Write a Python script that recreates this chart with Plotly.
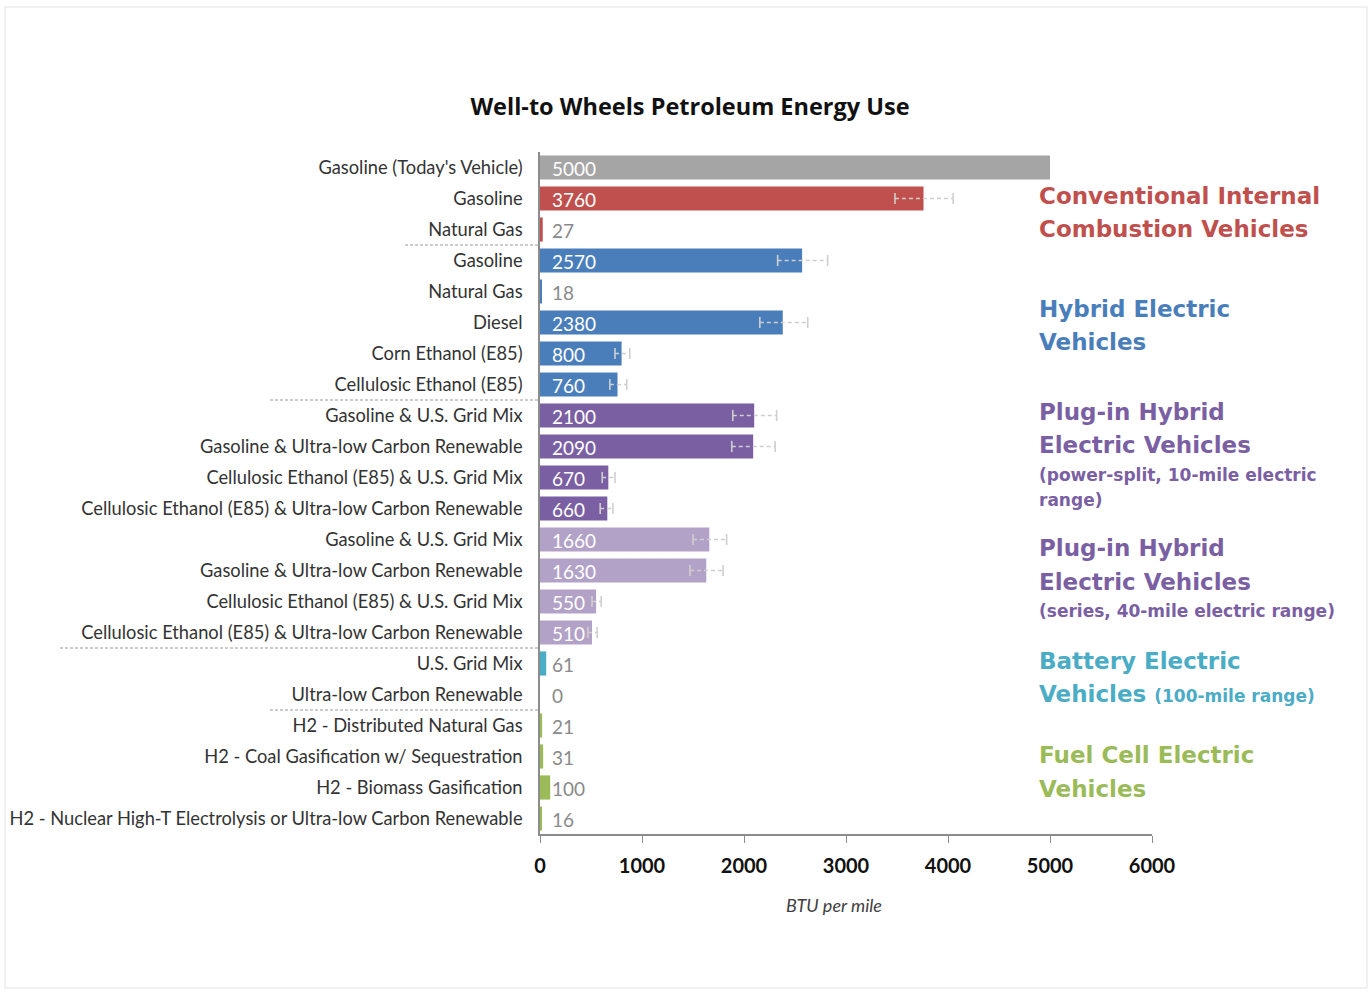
import plotly.graph_objects as go

# ---- data ----
categories = [
    "Gasoline (Today's Vehicle)",
    "Gasoline",
    "Natural Gas",
    "Gasoline",
    "Natural Gas",
    "Diesel",
    "Corn Ethanol (E85)",
    "Cellulosic Ethanol (E85)",
    "Gasoline & U.S. Grid Mix",
    "Gasoline & Ultra-low Carbon Renewable",
    "Cellulosic Ethanol (E85) & U.S. Grid Mix",
    "Cellulosic Ethanol (E85) & Ultra-low Carbon Renewable",
    "Gasoline & U.S. Grid Mix",
    "Gasoline & Ultra-low Carbon Renewable",
    "Cellulosic Ethanol (E85) & U.S. Grid Mix",
    "Cellulosic Ethanol (E85) & Ultra-low Carbon Renewable",
    "U.S. Grid Mix",
    "Ultra-low Carbon Renewable",
    "H2 - Distributed Natural Gas",
    "H2 - Coal Gasification w/ Sequestration",
    "H2 - Biomass Gasification",
    "H2 - Nuclear High-T Electrolysis or Ultra-low Carbon Renewable",
]
values = [5000, 3760, 27, 2570, 18, 2380, 800, 760, 2100, 2090, 670, 660,
          1660, 1630, 550, 510, 61, 0, 21, 31, 100, 16]
groups = ["today", "conv", "conv", "hev", "hev", "hev", "hev", "hev",
          "phev10", "phev10", "phev10", "phev10",
          "phev40", "phev40", "phev40", "phev40",
          "bev", "bev", "fcev", "fcev", "fcev", "fcev"]
err_minus = [None, 280, None, 240, None, 225, 65, 75, 210, 210, 60, 70,
             160, 160, 40, 40, None, None, None, None, None, None]
err_plus = [None, 290, None, 250, None, 245, 80, 90, 220, 215, 65, 55,
            170, 165, 50, 50, None, None, None, None, None, None]

group_colors = {
    "today": "#a5a5a5",
    "conv": "#c0504d",
    "hev": "#4a7ebb",
    "phev10": "#7b5fa3",
    "phev40": "#b3a2c7",
    "bev": "#4bacc6",
    "fcev": "#9bbb59",
}
group_boundaries = [2.5, 7.5, 15.5, 17.5]
boundary_left_px = [405, 270, 60, 270]

title_text = "Well-to Wheels Petroleum Energy Use"
x_title = "BTU per mile"
x_ticks = [0, 1000, 2000, 3000, 4000, 5000, 6000]

# ---- layout geometry ----
W, H = 1371, 992
L, R, T, B = 540, 219, 152, 158
pw = W - L - R
ph = H - T - B

rows = list(range(len(categories)))
colors = [group_colors[g] for g in groups]

fig = go.Figure()
fig.add_trace(go.Bar(
    x=values, y=rows, orientation="h", width=0.78,
    marker=dict(color=colors, line=dict(width=0)),
    hoverinfo="x+y", showlegend=False,
))

# error bars (dashed with caps)
ex, ey = [], []
cx, cy = [], []
for i, v in enumerate(values):
    if err_minus[i] is None:
        continue
    lo, hi = v - err_minus[i], v + err_plus[i]
    ex += [lo, hi, None]
    ey += [i, i, None]
    cx += [lo, hi]
    cy += [i, i]
fig.add_trace(go.Scatter(x=ex, y=ey, mode="lines",
                         line=dict(color="#cfcfcf", width=1.6, dash="4px,3px"),
                         hoverinfo="skip", showlegend=False))
fig.add_trace(go.Scatter(x=cx, y=cy, mode="markers",
                         marker=dict(symbol="line-ns", size=8,
                                     line=dict(color="#cfcfcf", width=1.6)),
                         hoverinfo="skip", showlegend=False))

# data labels
for i, v in enumerate(values):
    inside = v >= 400
    fig.add_annotation(x=0, y=i, xref="x", yref="y", text=str(v),
                       showarrow=False, xanchor="left", yanchor="middle",
                       xshift=10, yshift=-1,
                       font=dict(family="Lato", size=19,
                                 color="white" if inside else "#8a8a8a"))

# dashed separators in the category label area
for yb, lpx in zip(group_boundaries, boundary_left_px):
    fig.add_shape(type="line", xref="paper", yref="y",
                  x0=(lpx - L) / pw, x1=0, y0=yb, y1=yb,
                  line=dict(color="#9a9a9a", width=1, dash="3px,2px"))

# group labels on the right
def py(ypx):
    return (H - B - ypx) / ph

gx = (1037 - L) / pw
big = dict(family="DejaVu Sans", size=23, weight=700)
small = dict(family="DejaVu Sans", size=17, weight=700)
group_text = [
    ("Conventional Internal", 196, "#c0504d", big),
    ("Combustion Vehicles", 229, "#c0504d", big),
    ("Hybrid Electric", 309, "#4a7ebb", big),
    ("Vehicles", 342, "#4a7ebb", big),
    ("Plug-in Hybrid", 412, "#7b5fa3", big),
    ("Electric Vehicles", 445, "#7b5fa3", big),
    ("(power-split, 10-mile electric", 475, "#7b5fa3", small),
    ("range)", 500, "#7b5fa3", small),
    ("Plug-in Hybrid", 548, "#7b5fa3", big),
    ("Electric Vehicles", 582, "#7b5fa3", big),
    ("(series, 40-mile electric range)", 611, "#7b5fa3", small),
    ("Battery Electric", 661, "#4bacc6", big),
    ("Vehicles <span style='font-size:17px'>(100-mile range)</span>", 694, "#4bacc6", big),
    ("Fuel Cell Electric", 755, "#9bbb59", big),
    ("Vehicles", 789, "#9bbb59", big),
]
for txt, ypx, col, f in group_text:
    fig.add_annotation(x=gx, y=py(ypx), xref="paper", yref="paper", text=txt,
                       showarrow=False, xanchor="left", yanchor="middle",
                       font=dict(color=col, **f))

# x-axis title
fig.add_annotation(x=(834 - L) / pw, y=py(905), xref="paper", yref="paper",
                   text="<i>" + x_title + "</i>", showarrow=False,
                   xanchor="center", yanchor="middle",
                   font=dict(family="Lato", size=18, color="#404040"))

# chart border
fig.add_shape(type="rect", xref="paper", yref="paper",
              x0=(5 - L) / pw, x1=(1367 - L) / pw, y0=py(988), y1=py(7),
              line=dict(color="#e3e3e3", width=1))

fig.update_layout(
    width=W, height=H,
    margin=dict(l=L, r=R, t=T, b=B, pad=0, autoexpand=False),
    paper_bgcolor="white", plot_bgcolor="white",
    title=dict(text=title_text, x=690 / W, xanchor="center",
               y=1 - 107 / H, yanchor="middle",
               font=dict(family="Open Sans", size=23.5, color="#111111", weight=700)),
    xaxis=dict(range=[0, 6000], tickvals=x_ticks, showgrid=False, automargin=False,
               zeroline=False, showline=True, linecolor="#8c8c8c", linewidth=1.5,
               ticks="outside", ticklen=7, tickcolor="#8c8c8c",
               ticklabelstandoff=6,
               tickfont=dict(family="Lato", size=20, color="#111111", weight=700)),
    yaxis=dict(range=[21.5, -0.5], tickvals=rows, ticktext=categories,
               showgrid=False, zeroline=False, showline=True, automargin=False,
               linecolor="#8c8c8c", linewidth=1.5, ticks="",
               ticklabelstandoff=12,
               tickfont=dict(family="Lato", size=18.3, color="#333333")),
)

fig.write_html("out.html", config={"displayModeBar": False},
               post_script="document.body.style.margin='0';")
